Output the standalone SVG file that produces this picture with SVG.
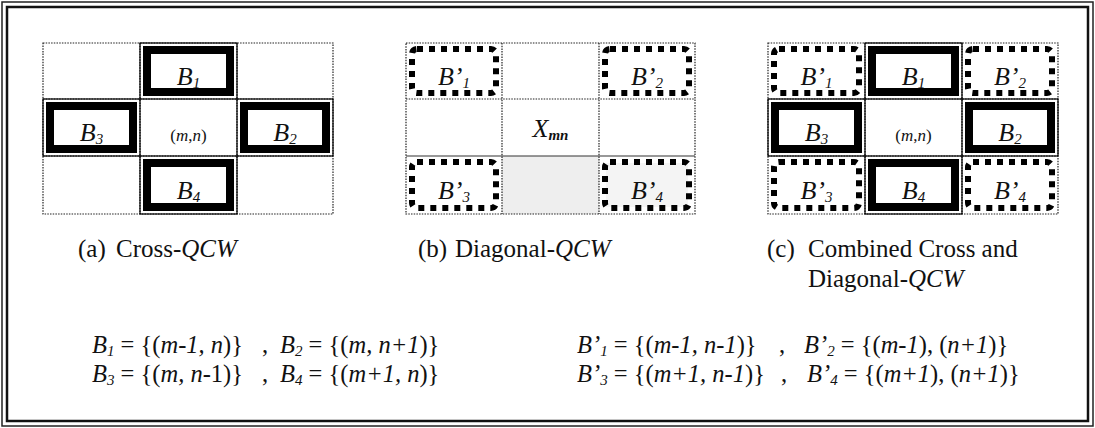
<svg xmlns="http://www.w3.org/2000/svg" width="1095" height="428" viewBox="0 0 1095 428">
<style>
.grid{fill:none;stroke:#222;stroke-width:1.2;stroke-dasharray:1.5 1.2}
.thin{fill:none;stroke:#000;stroke-width:1.2}
.thick{fill:#fff;stroke:#000;stroke-width:8}
.dash{fill:none;stroke:#000;stroke-width:6;stroke-dasharray:6 6}
.t{font-family:"Liberation Serif","Times New Roman",serif;fill:#111}
.lbl{font-size:25px}
.big{font-size:26px;font-style:italic;text-anchor:middle}
.mn{font-size:17px;text-anchor:middle}
.s{font-size:15px}
.f{font-size:24.5px;font-style:italic}
.u{font-style:normal}
</style>
<rect x="0" y="0" width="1095" height="428" fill="#fff"/>
<g id="frame">
<rect x="2" y="2" width="1091" height="424" fill="none" stroke="#222" stroke-width="1.5"/>
<rect x="7" y="7" width="1081" height="414" fill="none" stroke="#111" stroke-width="2.5"/>
</g>

<g id="panel-a">
<rect class="grid" x="43" y="43" width="290" height="171"/>
<line class="grid" x1="140" y1="43" x2="140" y2="214"/>
<line class="grid" x1="237" y1="43" x2="237" y2="214"/>
<line class="grid" x1="43" y1="99" x2="333" y2="99"/>
<line class="grid" x1="43" y1="156" x2="333" y2="156"/>
<g id="a-B1"><rect class="thin" x="140" y="43" width="97" height="56"/><rect class="thick" x="147" y="50" width="83" height="42"/><text class="t big" x="188.5" y="85">B<tspan class="s" dy="3">1</tspan></text></g>
<g id="a-B3"><rect class="thin" x="43" y="99" width="97" height="57"/><rect class="thick" x="50" y="106" width="83" height="43"/><text class="t big" x="91.5" y="141">B<tspan class="s" dy="3">3</tspan></text></g>
<g id="a-center"><text class="t mn" x="188.5" y="141">(<tspan font-style="italic">m</tspan>,<tspan font-style="italic">n</tspan>)</text></g>
<g id="a-B2"><rect class="thin" x="237" y="99" width="96" height="57"/><rect class="thick" x="244" y="106" width="82" height="43"/><text class="t big" x="285" y="141">B<tspan class="s" dy="3">2</tspan></text></g>
<g id="a-B4"><rect class="thin" x="140" y="156" width="97" height="58"/><rect class="thick" x="147" y="163" width="83" height="44"/><text class="t big" x="188.5" y="199">B<tspan class="s" dy="3">4</tspan></text></g>
</g>

<g id="panel-b">
<rect x="502" y="156" width="97" height="58" fill="#eeeeee"/>
<rect x="606" y="163" width="82" height="44" fill="#f4f4f4"/>
<rect class="grid" x="406" y="43" width="289" height="171"/>
<line class="grid" x1="502" y1="43" x2="502" y2="214"/>
<line class="grid" x1="599" y1="43" x2="599" y2="214"/>
<line class="grid" x1="406" y1="99" x2="695" y2="99"/>
<line x1="406" y1="156" x2="695" y2="156" stroke="#333" stroke-width="1.2"/>
<g id="b-B1p"><rect class="dash" x="412" y="49" width="84" height="44" rx="5"/><text class="t big" x="454" y="85">B’<tspan class="s" dy="3">1</tspan></text></g>
<g id="b-B2p"><rect class="dash" x="605" y="49" width="84" height="44" rx="5"/><text class="t big" x="647" y="85">B’<tspan class="s" dy="3">2</tspan></text></g>
<g id="b-X"><text class="t big" x="550.5" y="137">X<tspan class="s" font-weight="bold" dy="3">mn</tspan></text></g>
<g id="b-B3p"><rect class="dash" x="412" y="162" width="84" height="46" rx="5"/><text class="t big" x="454" y="199">B’<tspan class="s" dy="3">3</tspan></text></g>
<g id="b-B4p"><rect class="dash" x="605" y="162" width="84" height="46" rx="5"/><text class="t big" x="647" y="199">B’<tspan class="s" dy="3">4</tspan></text></g>
</g>

<g id="panel-c">
<rect class="grid" x="768" y="43" width="290" height="171"/>
<line class="grid" x1="865" y1="43" x2="865" y2="214"/>
<line class="grid" x1="962" y1="43" x2="962" y2="214"/>
<line class="grid" x1="768" y1="99" x2="1058" y2="99"/>
<line class="grid" x1="768" y1="156" x2="1058" y2="156"/>
<g id="c-B1p"><rect class="dash" x="774" y="49" width="85" height="44" rx="5"/><text class="t big" x="816.5" y="85">B’<tspan class="s" dy="3">1</tspan></text></g>
<g id="c-B1"><rect class="thin" x="865" y="43" width="97" height="56"/><rect class="thick" x="872" y="50" width="83" height="42"/><text class="t big" x="913.5" y="85">B<tspan class="s" dy="3">1</tspan></text></g>
<g id="c-B2p"><rect class="dash" x="968" y="49" width="84" height="44" rx="5"/><text class="t big" x="1010" y="85">B’<tspan class="s" dy="3">2</tspan></text></g>
<g id="c-B3"><rect class="thin" x="768" y="99" width="97" height="57"/><rect class="thick" x="775" y="106" width="83" height="43"/><text class="t big" x="816.5" y="141">B<tspan class="s" dy="3">3</tspan></text></g>
<g id="c-center"><text class="t mn" x="913.5" y="141">(<tspan font-style="italic">m</tspan>,<tspan font-style="italic">n</tspan>)</text></g>
<g id="c-B2"><rect class="thin" x="962" y="99" width="96" height="57"/><rect class="thick" x="969" y="106" width="82" height="43"/><text class="t big" x="1010" y="141">B<tspan class="s" dy="3">2</tspan></text></g>
<g id="c-B3p"><rect class="dash" x="774" y="162" width="85" height="46" rx="5"/><text class="t big" x="816.5" y="199">B’<tspan class="s" dy="3">3</tspan></text></g>
<g id="c-B4"><rect class="thin" x="865" y="156" width="97" height="58"/><rect class="thick" x="872" y="163" width="83" height="44"/><text class="t big" x="913.5" y="199">B<tspan class="s" dy="3">4</tspan></text></g>
<g id="c-B4p"><rect class="dash" x="968" y="162" width="84" height="46" rx="5"/><text class="t big" x="1010" y="199">B’<tspan class="s" dy="3">4</tspan></text></g>
</g>

<g id="captions">
<text class="t lbl" x="78" y="257">(a)<tspan x="116">Cross-<tspan font-style="italic">QCW</tspan></tspan></text>
<text class="t lbl" x="418" y="257">(b)<tspan x="455">Diagonal-<tspan font-style="italic">QCW</tspan></tspan></text>
<text class="t lbl" x="767" y="257">(c)<tspan x="808">Combined Cross and</tspan></text>
<text class="t lbl" x="808" y="287">Diagonal-<tspan font-style="italic">QCW</tspan></text>
</g>

<g id="formulas">
<text class="t f" x="92" y="353">B<tspan class="s" dy="3">1</tspan><tspan dy="-3" class="u"> = {(</tspan>m-1, n<tspan class="u">)}</tspan></text>
<text class="t f u" x="262" y="353">,</text>
<text class="t f" x="280" y="353">B<tspan class="s" dy="3">2</tspan><tspan dy="-3" class="u"> = {(</tspan>m, n+1<tspan class="u">)}</tspan></text>
<text class="t f" x="92" y="382">B<tspan class="s" dy="3">3</tspan><tspan dy="-3" class="u"> = {(</tspan>m, n-<tspan class="u">1)}</tspan></text>
<text class="t f u" x="262" y="382">,</text>
<text class="t f" x="280" y="382">B<tspan class="s" dy="3">4</tspan><tspan dy="-3" class="u"> = {(</tspan>m+1, n<tspan class="u">)}</tspan></text>

<text class="t f" x="577" y="353">B’<tspan class="s" dy="3">1</tspan><tspan dy="-3" class="u"> = {(</tspan>m-1, n-1<tspan class="u">)}</tspan></text>
<text class="t f u" x="779" y="353">,</text>
<text class="t f" x="804" y="353">B’<tspan class="s" dy="3">2</tspan><tspan dy="-3" class="u"> = {(</tspan>m-1<tspan class="u">), (</tspan>n+1<tspan class="u">)}</tspan></text>
<text class="t f" x="577" y="382">B’<tspan class="s" dy="3">3</tspan><tspan dy="-3" class="u"> = {(</tspan>m+1, n-1<tspan class="u">)}</tspan></text>
<text class="t f u" x="781" y="382">,</text>
<text class="t f" x="807" y="382">B’<tspan class="s" dy="3">4</tspan><tspan dy="-3" class="u"> = {(</tspan>m+1<tspan class="u">), (</tspan>n+1<tspan class="u">)}</tspan></text>
</g>
</svg>
